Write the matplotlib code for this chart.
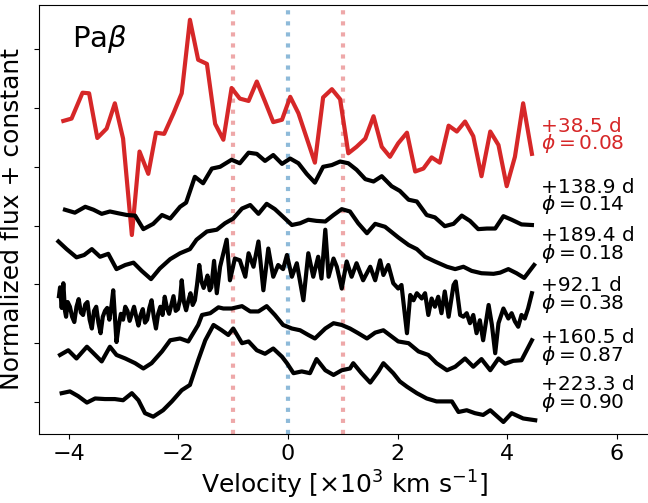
import matplotlib
matplotlib.use("Agg")
import matplotlib.pyplot as plt

# spectra already shifted by their constants (velocity in 1e3 km/s)
vel_385 = [-4.10, -3.95, -3.75, -3.63, -3.48, -3.31, -3.16, -3.01, -2.85, -2.71, -2.55, -2.41, -2.26, -2.09, -1.94,
           -1.79, -1.64, -1.48, -1.33, -1.18, -1.03, -0.88, -0.72, -0.57, -0.42, -0.27, -0.11, 0.04, 0.19, 0.34,
           0.49, 0.64, 0.80, 0.95, 1.10, 1.25, 1.41, 1.56, 1.71, 1.86, 2.01, 2.17, 2.32, 2.47, 2.62, 2.77, 2.93,
           3.08, 3.23, 3.38, 3.53, 3.69, 3.84, 3.99, 4.14, 4.29, 4.45]
flux_385 = [4.78, 4.82, 5.26, 5.25, 4.49, 4.65, 5.08, 4.48, 2.84, 4.26, 3.88, 4.58, 4.56, 4.91, 5.25,
            6.50, 5.82, 5.75, 4.73, 4.46, 5.34, 5.16, 5.12, 5.45, 5.11, 4.76, 4.80, 5.19, 4.91, 4.49,
            4.07, 5.18, 5.32, 5.15, 4.23, 4.34, 4.48, 4.86, 4.34, 4.17, 4.40, 4.58, 3.92, 3.97, 4.16, 4.07, 4.70,
            4.60, 4.77, 4.52, 3.84, 4.60, 4.37, 3.67, 4.17, 5.08, 4.22]

vel_1389 = [-4.07, -3.89, -3.70, -3.55, -3.40, -3.25, -3.10, -2.94, -2.79, -2.64, -2.46, -2.30, -2.15, -1.97, -1.86,
            -1.70, -1.55, -1.39, -1.24, -1.03, -0.88, -0.72, -0.57, -0.42, -0.27, -0.11, 0.04, 0.19, 0.34, 0.49,
            0.64, 0.80, 0.95, 1.10, 1.25, 1.41, 1.56, 1.71, 1.89, 2.04, 2.20, 2.35, 2.53, 2.68, 2.86, 3.02, 3.17,
            3.32, 3.47, 3.63, 3.78, 3.93, 4.08, 4.26, 4.45]
flux_1389 = [3.27, 3.22, 3.32, 3.27, 3.20, 3.24, 3.21, 3.18, 3.17, 2.94, 3.03, 3.18, 3.12, 3.32, 3.39,
             3.83, 3.72, 3.97, 4.00, 4.12, 4.06, 4.24, 4.22, 4.10, 4.20, 4.05, 4.14, 4.06, 3.88, 3.73,
             4.00, 4.03, 4.09, 4.06, 3.95, 3.79, 3.75, 3.84, 3.67, 3.59, 3.44, 3.41, 3.18, 3.14, 2.99, 3.03, 3.17,
             3.08, 2.94, 2.95, 2.95, 3.16, 3.10, 3.02, 3.01]

vel_1894 = [-4.19, -4.04, -3.86, -3.72, -3.58, -3.43, -3.28, -3.13, -2.97, -2.82, -2.67, -2.50, -2.34, -2.15, -1.97,
            -1.79, -1.67, -1.48, -1.30, -1.15, -1.00, -0.84, -0.69, -0.54, -0.39, -0.24, -0.09, 0.07, 0.22, 0.37,
            0.52, 0.68, 0.83, 0.98, 1.13, 1.28, 1.44, 1.59, 1.77, 2.01, 2.20, 2.35, 2.50, 2.68, 2.90, 3.05, 3.20,
            3.35, 3.53, 3.75, 3.87, 4.02, 4.17, 4.31, 4.49]
flux_1894 = [2.73, 2.60, 2.46, 2.50, 2.60, 2.47, 2.52, 2.26, 2.33, 2.37, 2.23, 2.09, 2.27, 2.43, 2.53,
             2.60, 2.76, 2.90, 2.93, 3.04, 3.12, 3.29, 3.35, 3.20, 3.37, 3.28, 3.15, 3.01, 3.04, 3.10,
             3.08, 3.07, 3.18, 3.28, 3.24, 3.04, 2.87, 3.03, 2.98, 2.80, 2.67, 2.60, 2.47, 2.39, 2.30, 2.26, 2.30,
             2.23, 2.19, 2.18, 2.20, 2.26, 2.19, 2.11, 2.33]

vel_921 = [-4.18, -4.16, -4.13, -4.10, -4.07, -4.05, -4.02, -3.98, -3.94, -3.90, -3.86, -3.82, -3.78, -3.74, -3.70,
           -3.66, -3.62, -3.58, -3.54, -3.50, -3.46, -3.42, -3.38, -3.34, -3.30, -3.26, -3.22, -3.19, -3.16, -3.13,
           -3.09, -3.05, -3.01, -2.97, -2.93, -2.89, -2.85, -2.81, -2.77, -2.73, -2.69, -2.65, -2.61, -2.57, -2.53,
           -2.49, -2.45, -2.41, -2.37, -2.33, -2.29, -2.25, -2.21, -2.17, -2.13, -2.09, -2.05, -2.01, -1.97, -1.94,
           -1.90, -1.86, -1.82, -1.78, -1.74, -1.70, -1.66, -1.62, -1.58, -1.54, -1.50, -1.47, -1.43, -1.40, -1.35,
           -1.30, -1.24, -1.12, -1.06, -0.97, -0.88, -0.78,
           -0.72, -0.63, -0.54, -0.45, -0.36, -0.27, -0.18, -0.09, -0.02, 0.07, 0.16, 0.28, 0.37, 0.46, 0.55,
           0.61, 0.68, 0.74, 0.83, 0.89, 0.98, 1.07, 1.16, 1.25, 1.37, 1.50, 1.59, 1.68, 1.74, 1.83,
           1.92, 2.01, 2.07, 2.17, 2.23, 2.29, 2.35, 2.44, 2.50, 2.56, 2.62, 2.68, 2.74, 2.80, 2.86,
           2.93, 3.02, 3.06, 3.14, 3.20, 3.26, 3.32, 3.38, 3.44, 3.50, 3.56, 3.66, 3.72, 3.78, 3.84,
           3.93, 4.02, 4.08, 4.14, 4.20, 4.26, 4.32, 4.38, 4.45]
flux_921 = [1.80, 1.95, 1.60, 2.02, 1.55, 1.45, 1.70, 1.62, 1.45, 1.36, 1.62, 1.75, 1.52, 1.48, 1.66,
            1.70, 1.40, 1.25, 1.55, 1.62, 1.35, 1.17, 1.45, 1.55, 1.60, 1.40, 1.65, 1.90, 1.45, 1.02,
            1.30, 1.50, 1.40, 1.62, 1.55, 1.38, 1.50, 1.62, 1.45, 1.30, 1.48, 1.58, 1.35, 1.40, 1.60,
            1.73, 1.45, 1.25, 1.50, 1.62, 1.48, 1.79, 1.60, 1.50, 1.65, 1.80, 1.55, 1.58, 1.75, 2.07,
            1.70, 1.56, 1.72, 1.85, 1.65, 1.73, 2.00, 2.33, 2.05, 1.94, 2.05, 2.15, 1.90, 1.95, 2.40,
            1.85, 2.30, 2.76, 2.07, 2.44, 2.41, 2.13,
            2.53, 2.30, 2.73, 1.90, 2.61, 2.13, 2.33, 2.26, 2.50, 2.13, 2.36, 1.73, 2.53, 2.13, 2.47,
            2.10, 2.93, 2.13, 2.44, 2.30, 1.93, 2.39, 2.13, 2.36, 2.07, 2.30, 2.07, 2.41, 2.16, 2.33,
            2.02, 1.93, 1.99, 1.17, 1.82, 1.73, 1.85, 1.76, 1.85, 1.48, 1.76, 1.62, 1.79, 1.51, 1.88,
            1.45, 1.99, 2.05, 1.48, 1.45, 1.51, 1.34, 1.48, 1.17, 1.39, 1.05, 1.65, 1.31, 0.83, 1.34,
            1.59, 1.42, 1.51, 1.37, 1.28, 1.48, 1.42, 1.59, 1.85]

vel_1605 = [-4.16, -4.01, -3.86, -3.67, -3.55, -3.40, -3.25, -3.13, -2.97, -2.79, -2.64, -2.49, -2.30, -2.15, -1.97,
            -1.82, -1.64, -1.57, -1.42, -1.27, -1.18, -1.03, -0.84, -0.69, -0.54, -0.39, -0.24, -0.09, 0.07, 0.22,
            0.37, 0.49, 0.68, 0.83, 0.98, 1.13, 1.28, 1.44, 1.59, 1.74, 2.01, 2.20, 2.38, 2.56, 2.71, 2.90, 3.05,
            3.23, 3.38, 3.53, 3.69, 3.84, 3.96, 4.11, 4.26, 4.45]
flux_1605 = [0.80, 0.88, 0.74, 0.94, 0.83, 0.69, 0.94, 0.80, 0.74, 0.66, 0.57, 0.66, 0.86, 1.05, 1.08,
             1.03, 1.31, 1.48, 1.51, 1.61, 1.59, 1.59, 1.63, 1.54, 1.54, 1.63, 1.48, 1.31, 1.25, 1.22,
             1.14, 1.08, 1.25, 1.34, 1.31, 1.25, 1.17, 1.08, 1.18, 1.22, 1.03, 1.00, 0.86, 0.80, 0.66, 0.54, 0.60,
             0.74, 0.60, 0.73, 0.54, 0.74, 0.65, 0.70, 0.71, 1.05]

vel_2233 = [-4.13, -3.98, -3.83, -3.67, -3.52, -3.34, -3.16, -3.01, -2.85, -2.73, -2.61, -2.46, -2.28, -2.12, -1.94,
            -1.79, -1.64, -1.51, -1.36, -1.21, -1.09, -1.00, -0.84, -0.72, -0.57, -0.42, -0.27, -0.11, -0.02, 0.10,
            0.25, 0.40, 0.52, 0.68, 0.83, 0.98, 1.13, 1.19, 1.34, 1.50, 1.65, 1.74, 1.92, 2.04, 2.17, 2.35, 2.53,
            2.71, 2.99, 3.11, 3.26, 3.41, 3.56, 3.69, 3.93, 4.08, 4.29, 4.51]
flux_2233 = [0.15, 0.18, 0.10, -0.01, 0.06, 0.05, 0.05, 0.03, 0.15, 0.03, -0.19, -0.25, -0.14, 0.01, 0.20,
             0.29, 0.71, 1.05, 1.31, 1.22, 1.14, 1.25, 1.00, 1.03, 0.88, 0.82, 0.91, 0.77, 0.66, 0.49,
             0.52, 0.49, 0.73, 0.54, 0.46, 0.54, 0.57, 0.66, 0.49, 0.33, 0.52, 0.66, 0.49, 0.35, 0.26, 0.15, 0.06,
             0.01, 0.01, -0.17, -0.14, -0.19, -0.22, -0.14, -0.34, -0.19, -0.28, -0.31]

epochs = ["+38.5 d", "+138.9 d", "+189.4 d", "+92.1 d", "+160.5 d", "+223.3 d"]
phases = ["0.08", "0.14", "0.18", "0.38", "0.87", "0.90"]
label_y = [4.60, 3.56, 2.73, 1.89, 1.00, 0.20]

spectra = [(vel_385, flux_385), (vel_1389, flux_1389), (vel_1894, flux_1894),
           (vel_921, flux_921), (vel_1605, flux_1605), (vel_2233, flux_2233)]
colors = ["#d62728", "k", "k", "k", "k", "k"]

fig = plt.figure(figsize=(6.48, 5.03), dpi=100)
ax = fig.add_axes([0.0602, 0.1372, 0.943, 0.8529])

# reference velocities
ax.axvline(-1, color="#d62728", alpha=0.4, ls=":", lw=3)
ax.axvline(1, color="#d62728", alpha=0.4, ls=":", lw=3)
ax.axvline(0, color="#1f77b4", alpha=0.5, ls=":", lw=3)

for (v, f), c, ep, ph, ly in zip(spectra, colors, epochs, phases, label_y):
    ax.plot(v, f, color=c, lw=3)
    ax.text(4.62, ly, ep, color=c, fontsize=14.5, va="baseline")
    ax.text(4.62, ly - 0.303, r"$\phi = %s$" % ph, color=c, fontsize=14.5, va="baseline")

ax.text(-3.94, 6.04, r"Pa$\beta$", fontsize=21, va="baseline")

ax.set_xlim(-4.544, 6.606)
ax.set_ylim(-0.544, 6.752)
ax.set_xticks([-4, -2, 0, 2, 4, 6])
ax.set_yticks([0, 1, 2, 3, 4, 5, 6])
ax.set_yticklabels([])
ax.tick_params(axis="x", labelsize=16)
ax.set_xlabel(r"Velocity [$\times10^3$ km s$^{-1}$]", fontsize=18)
ax.set_ylabel("Normalized flux + constant", fontsize=18)

fig.savefig("out.png", dpi=100)
